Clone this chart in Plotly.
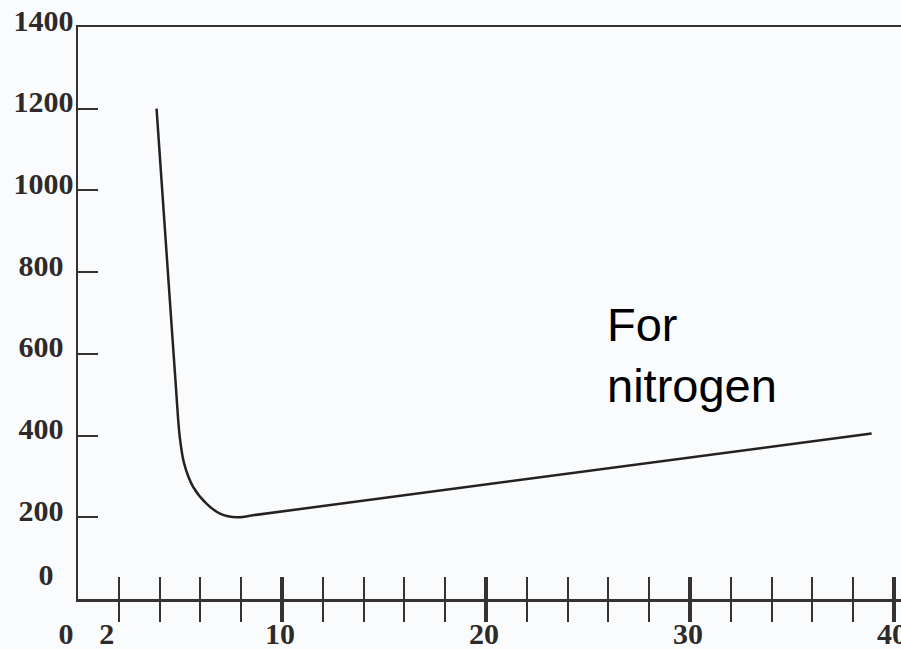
import plotly.graph_objects as go

# Paschen curve (breakdown voltage vs pd) for nitrogen
pd_vals = [3.85, 4.5, 4.77, 4.98, 5.2, 5.65, 6.31, 6.96, 7.8, 8.43, 38.9]
volts = [1200, 732, 540, 400, 332, 274, 233, 209, 200, 204, 405]
KNEE_END = 9  # smooth knee up to this index, straight branch after it

x_major = [10, 20, 30, 40]
x_minor = [2, 4, 6, 8, 12, 14, 16, 18, 22, 24, 26, 28, 32, 34, 36, 38]
x_labels_major = ["10", "20", "30", "40"]
x_labels_low_vals = [0, 2]
x_labels_low = ["0", "2"]

y_vals = [200, 400, 600, 800, 1000, 1200, 1400]
SP = "\u2004"
y_labels = ["200" + SP, "400" + SP, "600" + SP, "800" + SP, "1000", "1200", "1400"]
y_zero_vals = [0]
y_zero_labels = ["0" + "\u2004\u2004\u00a0"]

note_text = "For<br>nitrogen"

INK = "#373232"
CURVE = "#262121"
BG = "#f9fbfc"
XR = [0, 40.34]
YR = [0, 1400]
tick_font = dict(family="Liberation Serif", size=30, color="#2f2a2a", weight="bold")

fig = go.Figure()
fig.add_trace(go.Scatter(x=pd_vals[:KNEE_END + 1], y=volts[:KNEE_END + 1], mode="lines",
                         line=dict(color=CURVE, width=2.5, shape="spline", smoothing=0.8),
                         showlegend=False, hoverinfo="skip"))
fig.add_trace(go.Scatter(x=pd_vals[KNEE_END:], y=volts[KNEE_END:], mode="lines",
                         line=dict(color=CURVE, width=2.5),
                         showlegend=False, hoverinfo="skip"))
for xa, ya in [("x2", "y"), ("x3", "y"), ("x4", "y"), ("x", "y2")]:
    fig.add_trace(go.Scatter(x=[], y=[], xaxis=xa, yaxis=ya,
                             showlegend=False, hoverinfo="skip"))

common_x = dict(range=XR, showgrid=False, zeroline=False, automargin=False)

fig.update_layout(
    width=901, height=649,
    margin=dict(l=78, r=0, t=27, b=50, autoexpand=False),
    paper_bgcolor=BG, plot_bgcolor=BG,
    xaxis=dict(**common_x,
               showline=True, linecolor=INK, linewidth=2.5, mirror=True,
               ticks="inside", tickvals=x_major, ticklen=22, tickwidth=4,
               tickcolor=INK, showticklabels=False,
               minor=dict(tickvals=x_minor, ticks="inside", ticklen=22,
                          tickwidth=2, tickcolor=INK, showgrid=False)),
    xaxis2=dict(**common_x, overlaying="x", anchor="y", side="bottom",
                showline=False,
                ticks="outside", tickvals=x_major, ticklen=22, tickwidth=4,
                tickcolor=INK, showticklabels=False,
                minor=dict(tickvals=x_minor, ticks="outside", ticklen=22,
                           tickwidth=2, tickcolor=INK, showgrid=False)),
    xaxis3=dict(**common_x, overlaying="x", anchor="y", side="bottom",
                showline=False, ticklabeloverflow="allow",
                ticks="outside", ticklen=8, tickcolor="rgba(0,0,0,0)",
                tickvals=x_major, ticktext=x_labels_major,
                tickfont=tick_font, ticklabelshift=-2),
    xaxis4=dict(**common_x, overlaying="x", anchor="y", side="bottom",
                showline=False, ticklabeloverflow="allow",
                ticks="outside", ticklen=8, tickcolor="rgba(0,0,0,0)",
                tickvals=x_labels_low_vals, ticktext=x_labels_low,
                tickfont=tick_font, ticklabelshift=-12),
    yaxis=dict(range=YR, showgrid=False, zeroline=False, automargin=False,
               showline=True, linecolor=INK, linewidth=2.5,
               ticks="inside", tickvals=y_vals, ticktext=y_labels,
               ticklen=20, tickwidth=2, tickcolor=INK,
               tickfont=tick_font, ticklabelshift=-7, ticklabelstandoff=-4),
    yaxis2=dict(range=YR, overlaying="y", anchor="x", side="left",
                showgrid=False, zeroline=False, showline=False, automargin=False,
                ticks="", tickvals=y_zero_vals, ticktext=y_zero_labels,
                tickfont=tick_font, ticklabelshift=-25, ticklabelstandoff=-4),
    annotations=[dict(x=25.85, y=742, xref="x", yref="y", text=note_text,
                      showarrow=False, xanchor="left", yanchor="top",
                      align="left",
                      font=dict(family="Liberation Sans", size=47, color="#000000"))],
)

fig.write_html(
    "out.html",
    config={"displayModeBar": False, "staticPlot": True},
    post_script="document.body.style.margin='0';document.body.style.overflow='hidden';"
                "document.body.style.background='" + BG + "';",
)
